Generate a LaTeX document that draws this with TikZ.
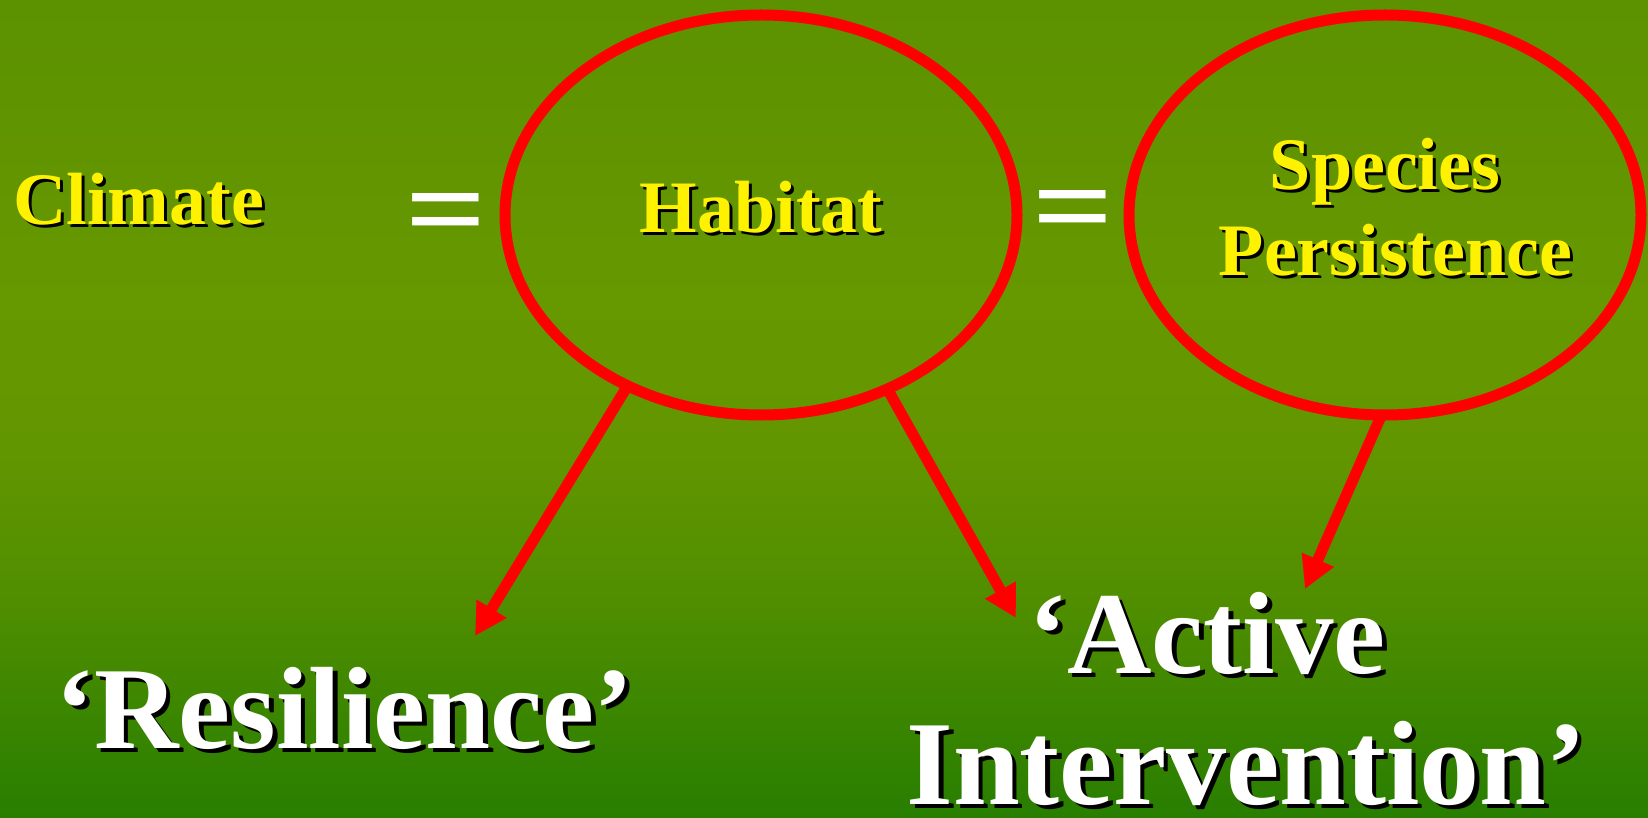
\documentclass[tikz,border=0pt]{standalone}
\usepackage{fontspec}
\setmainfont{Liberation Serif}
\usetikzlibrary{arrows.meta,shapes.geometric}
\definecolor{bgA}{RGB}{40,126,0}
\definecolor{bgB}{RGB}{80,142,0}
\definecolor{bgC}{RGB}{98,150,0}
\definecolor{bgD}{RGB}{102,152,0}
\definecolor{bgE}{RGB}{92,145,0}
\pgfdeclareverticalshading{slidebg}{100bp}{color(0bp)=(bgA); color(25bp)=(bgA); color(38.3bp)=(bgB); color(47.5bp)=(bgC); color(56.7bp)=(bgD); color(75bp)=(bgE); color(100bp)=(bgE)}
\newcommand\shd[2]{\leavevmode\rlap{\hspace{#2}\raisebox{-#2}{\color{black}#1}}#1}
\begin{document}
\begin{tikzpicture}[x=0.5pt,y=-0.5pt,
  ring/.style={draw=red, line width=5.5pt, ellipse, minimum width=256pt, minimum height=200pt, outer sep=0pt, inner sep=0pt, text depth=8pt},
  small/.style={text=yellow, font=\fontsize{37}{43}\selectfont\bfseries},
  big/.style={text=white, font=\fontsize{58.5}{65}\selectfont\bfseries, inner sep=0pt},
  eq/.style={text=white, font=\fontsize{60}{60}\selectfont\bfseries, inner sep=0pt},
  arr/.style={draw=red, line width=5.5pt, -{Triangle[length=16pt,width=16.5pt]}}]
\shade[shading=slidebg] (0,0) rectangle (1648,818);
\useasboundingbox (0,0) rectangle (1648,818);
\node[ring, small] (hab) at (761,215) {\shd{Habitat}{1.5pt}};
\node[ring, small, align=center] (spe) at (1385,215) {\shd{Species}{1.5pt}\\\hspace*{5.25pt}\shd{Persistence}{1.5pt}\kern-5.25pt};
\node[small, anchor=base west, inner sep=0pt] (cli) at (13,225) {\shd{Climate}{1.5pt}};
\node[eq] (eq1) at (446,221) {\scalebox{1.19}[1]{=}};
\node[eq] (eq2) at (1073,218) {\scalebox{1.19}[1]{=}};
\node[big, anchor=base west] (res) at (55,748) {\shd{‘Resilience’}{2.3pt}};
\node[big, anchor=base west] (act) at (1028,673) {\shd{‘Active}{2.3pt}};
\node[big, anchor=base west, font=\fontsize{60}{65}\selectfont\bfseries] (int) at (906,804) {\shd{Intervention’}{2.3pt}};
\coordinate (t1) at (475,636);
\coordinate (t2) at (1016,618);
\coordinate (t3) at (1305,589);
\draw[arr] (hab.232.6) -- (t1);
\draw[arr] (hab.306.8) -- (t2);
\draw[arr] (spe.269.4) -- (t3);
\end{tikzpicture}
\end{document}
